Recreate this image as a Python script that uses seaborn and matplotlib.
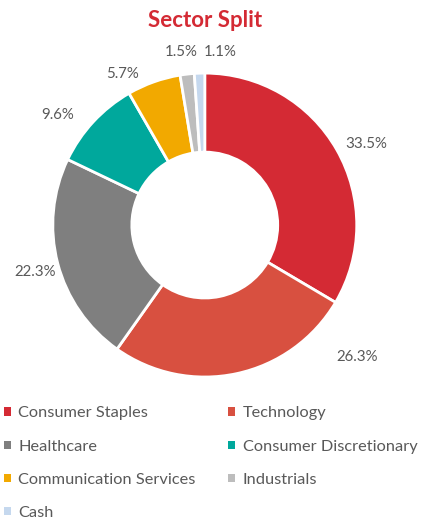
import numpy as np
import matplotlib
matplotlib.use("Agg")
import matplotlib.pyplot as plt
import seaborn as sns

sectors = ["Consumer Staples", "Technology", "Healthcare", "Consumer Discretionary",
           "Communication Services", "Industrials", "Cash"]
weights = [33.5, 26.3, 22.3, 9.6, 5.7, 1.5, 1.1]
colors = ["#D42A34", "#D85040", "#7F7F7F", "#00A89C", "#F2A900", "#BDBDBD", "#C5D8EE"]

# label placement (radius, angle nudge in degrees) per slice
label_r = [1.19, 1.33, 1.16, 1.21, 1.13, 1.15, 1.14]
label_nudge = [3, -37, -1, -6, -9, -1, 7]

sns.set_theme(style="white")
plt.rcParams["font.family"] = ["Lato", "DejaVu Sans"]
text_grey = "#595959"

fig = plt.figure(figsize=(4.22, 5.20), dpi=100)
lim = 1.35
ax = fig.add_axes([-0.001, 0.1727, 0.9725, 0.789])
wedges, _ = ax.pie(weights, colors=colors, startangle=90, counterclock=False,
                   wedgeprops=dict(width=0.52, edgecolor="white", linewidth=2))
ax.set_xlim(-lim, lim)
ax.set_ylim(-lim, lim)
ax.set_aspect("equal")
ax.axis("off")

for w, v, r, d in zip(wedges, weights, label_r, label_nudge):
    mid = np.deg2rad((w.theta1 + w.theta2) / 2 - d)
    ax.text(r * np.cos(mid), r * np.sin(mid), f"{v}%", ha="center", va="center",
            fontsize=10.8, color=text_grey)

fig.text(0.486, 0.96, "Sector Split", ha="center", va="center", fontsize=16,
         fontweight="bold", color="#D42A34")

order = [0, 2, 4, 6, 1, 3, 5]
leg = fig.legend([wedges[i] for i in order], [sectors[i] for i in order],
                 loc="upper left", bbox_to_anchor=(-0.006, 0.231), ncol=2, frameon=False,
                 fontsize=11.8, handlelength=0.42, handleheight=0.42, handletextpad=0.45,
                 columnspacing=2.0, labelspacing=1.17, borderaxespad=0)
for t in leg.get_texts():
    t.set_color(text_grey)
for h in leg.legend_handles:
    h.set_linewidth(0)

fig.savefig("out.png", dpi=100)
